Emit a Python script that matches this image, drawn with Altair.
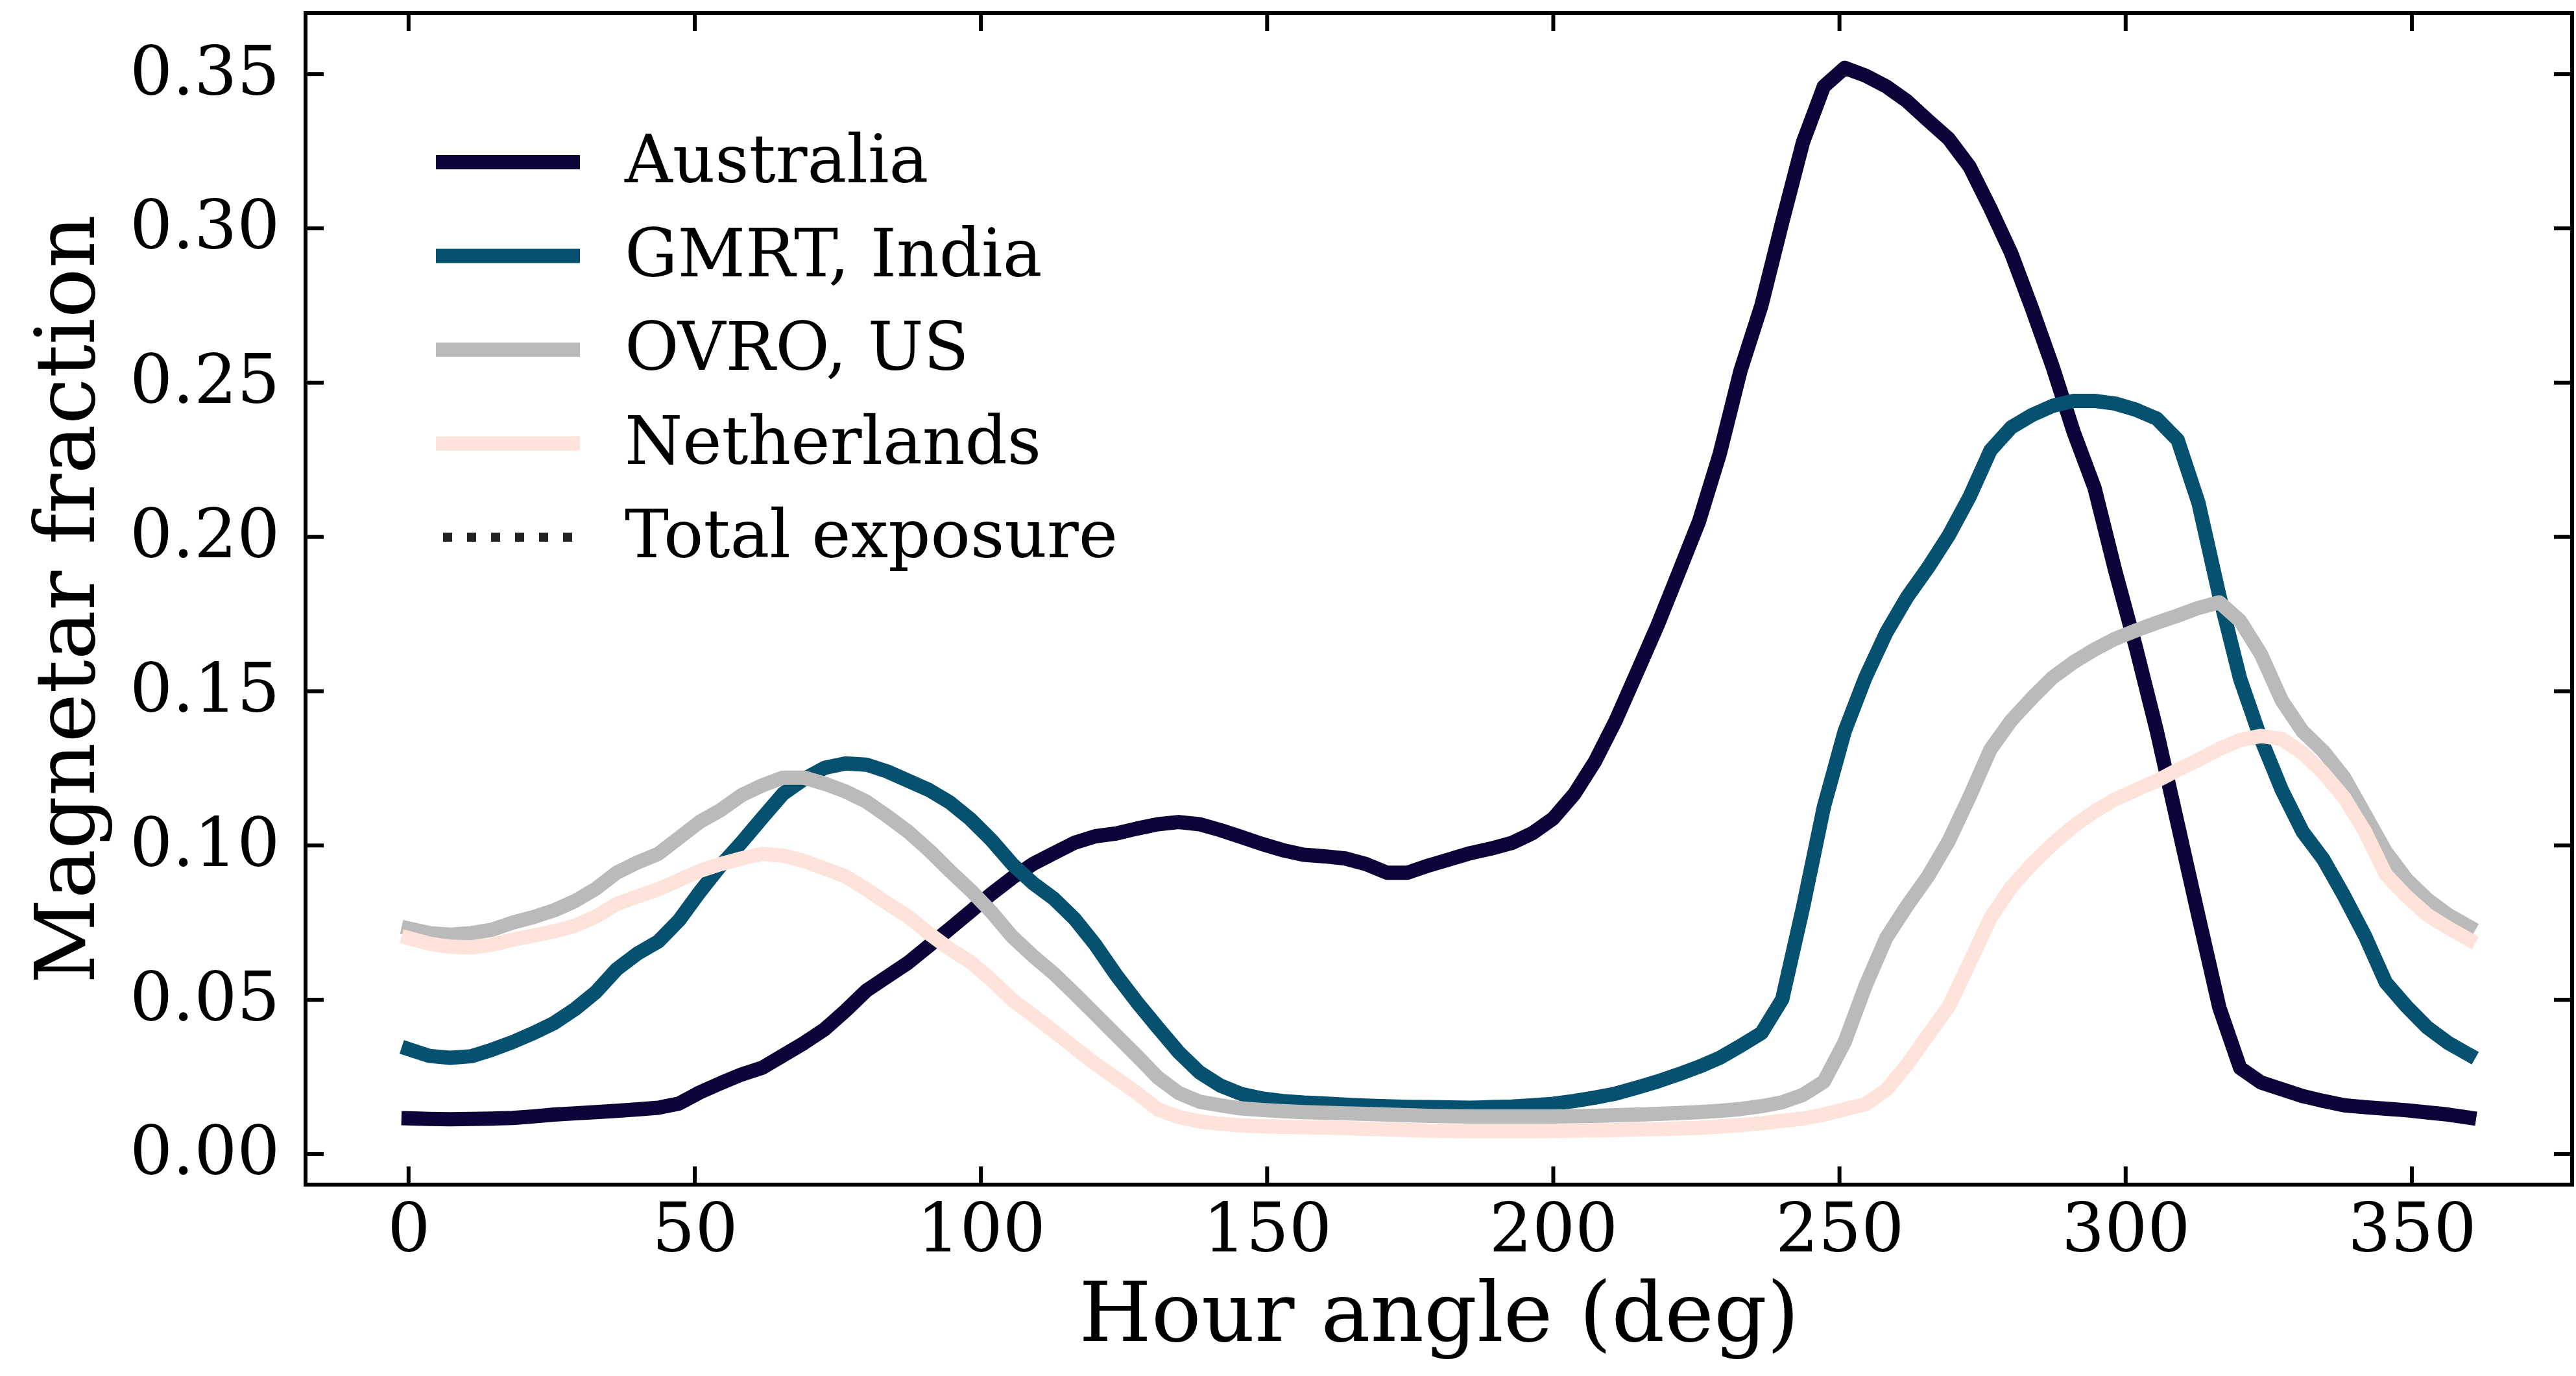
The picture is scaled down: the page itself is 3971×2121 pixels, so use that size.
import altair as alt
import numpy as np
import pandas as pd

# ---------------- data ----------------
hour_angle = np.linspace(0, 360, 100)  # native sampling grid of the curves

series_names = ["Australia", "GMRT, India", "OVRO, US", "Netherlands"]
legend_labels = ["Australia", "GMRT, India", "OVRO, US", "Netherlands", "Total exposure"]

australia = [0.0116, 0.0114, 0.0113, 0.0114, 0.0115, 0.0117, 0.0122, 0.0128, 0.0132, 0.0136,
             0.0140, 0.0145, 0.0150, 0.0164, 0.0200, 0.0230, 0.0258, 0.0280, 0.0320, 0.0360,
             0.0405, 0.0465, 0.0530, 0.0575, 0.0620, 0.0675, 0.0730, 0.0786, 0.0843, 0.0895,
             0.0940, 0.0975, 0.1009, 0.1030, 0.1039, 0.1055, 0.1069, 0.1076, 0.1069, 0.1050,
             0.1028, 0.1005, 0.0985, 0.0970, 0.0965, 0.0958, 0.0940, 0.0912, 0.0912, 0.0935,
             0.0955, 0.0975, 0.0990, 0.1008, 0.1040, 0.1088, 0.1166, 0.1272, 0.1405, 0.1558,
             0.1712, 0.1880, 0.2050, 0.2270, 0.2540, 0.2750, 0.3020, 0.3280, 0.3460, 0.3520,
             0.3495, 0.3460, 0.3412, 0.3350, 0.3290, 0.3200, 0.3065, 0.2920, 0.2740, 0.2550,
             0.2340, 0.2160, 0.1890, 0.1640, 0.1370, 0.1070, 0.0770, 0.0475, 0.0279, 0.0232,
             0.0210, 0.0188, 0.0172, 0.0158, 0.0152, 0.0147, 0.0142, 0.0135, 0.0128, 0.0118]

gmrt = [0.0340, 0.0318, 0.0312, 0.0317, 0.0338, 0.0363, 0.0392, 0.0425, 0.0470, 0.0525,
        0.0599, 0.0650, 0.0689, 0.0758, 0.0850, 0.0935, 0.1010, 0.1090, 0.1168, 0.1215,
        0.1252, 0.1266, 0.1262, 0.1240, 0.1210, 0.1180, 0.1140, 0.1085, 0.1018, 0.0940,
        0.0878, 0.0828, 0.0762, 0.0678, 0.0580, 0.0492, 0.0410, 0.0330, 0.0265, 0.0222,
        0.0195, 0.0180, 0.0172, 0.0167, 0.0164, 0.0160, 0.0157, 0.0155, 0.0153, 0.0152,
        0.0151, 0.0150, 0.0152, 0.0154, 0.0158, 0.0163, 0.0172, 0.0183, 0.0196, 0.0215,
        0.0235, 0.0258, 0.0283, 0.0312, 0.0351, 0.0392, 0.0502, 0.0800, 0.1125, 0.1370,
        0.1545, 0.1690, 0.1805, 0.1900, 0.2005, 0.2130, 0.2280, 0.2355, 0.2395, 0.2425,
        0.2441, 0.2441, 0.2432, 0.2412, 0.2383, 0.2314, 0.2110, 0.1810, 0.1540, 0.1345,
        0.1180, 0.1045, 0.0955, 0.0836, 0.0707, 0.0556, 0.0478, 0.0410, 0.0360, 0.0322]

ovro = [0.0731, 0.0716, 0.0711, 0.0716, 0.0727, 0.0750, 0.0768, 0.0790, 0.0820, 0.0860,
        0.0912, 0.0945, 0.0973, 0.1025, 0.1077, 0.1115, 0.1163, 0.1195, 0.1220, 0.1220,
        0.1200, 0.1175, 0.1142, 0.1095, 0.1045, 0.0985, 0.0918, 0.0855, 0.0785, 0.0705,
        0.0642, 0.0585, 0.0520, 0.0453, 0.0385, 0.0318, 0.0248, 0.0198, 0.0170, 0.0158,
        0.0148, 0.0143, 0.0139, 0.0136, 0.0134, 0.0132, 0.0130, 0.0128, 0.0126, 0.0124,
        0.0123, 0.0122, 0.0122, 0.0122, 0.0122, 0.0122, 0.0123, 0.0124, 0.0126, 0.0128,
        0.0130, 0.0133, 0.0136, 0.0140, 0.0146, 0.0155, 0.0168, 0.0192, 0.0235, 0.0363,
        0.0545, 0.0701, 0.0805, 0.0900, 0.1015, 0.1158, 0.1311, 0.1405, 0.1478, 0.1545,
        0.1594, 0.1635, 0.1670, 0.1697, 0.1722, 0.1745, 0.1770, 0.1788, 0.1728, 0.1620,
        0.1470, 0.1370, 0.1305, 0.1220, 0.1100, 0.0980, 0.0890, 0.0825, 0.0775, 0.0737]

netherlands = [0.0700, 0.0682, 0.0672, 0.0670, 0.0678, 0.0695, 0.0708, 0.0722, 0.0740, 0.0770,
               0.0810, 0.0835, 0.0858, 0.0888, 0.0918, 0.0940, 0.0958, 0.0973, 0.0967, 0.0950,
               0.0925, 0.0900, 0.0858, 0.0812, 0.0770, 0.0715, 0.0665, 0.0622, 0.0565, 0.0500,
               0.0450, 0.0398, 0.0345, 0.0292, 0.0245, 0.0198, 0.0145, 0.0120, 0.0106, 0.0098,
               0.0093, 0.0090, 0.0088, 0.0087, 0.0086, 0.0084, 0.0082, 0.0080, 0.0078, 0.0076,
               0.0075, 0.0074, 0.0074, 0.0074, 0.0074, 0.0075, 0.0076, 0.0077, 0.0078, 0.0080,
               0.0081, 0.0083, 0.0085, 0.0089, 0.0094, 0.0100, 0.0108, 0.0115, 0.0128, 0.0145,
               0.0162, 0.0208, 0.0290, 0.0385, 0.0478, 0.0620, 0.0765, 0.0865, 0.0940, 0.1005,
               0.1063, 0.1110, 0.1150, 0.1180, 0.1210, 0.1245, 0.1278, 0.1313, 0.1342, 0.1355,
               0.1345, 0.1300, 0.1235, 0.1155, 0.1045, 0.0906, 0.0835, 0.0775, 0.0733, 0.0695]

x_ticks = [0, 50, 100, 150, 200, 250, 300, 350]
y_ticks = [0.00, 0.05, 0.10, 0.15, 0.20, 0.25, 0.30, 0.35]

# ---------------- styling ----------------
colors = ["#0b0439", "#06516f", "#bababa", "#fde3da"]
total_color = "#222222"
FONT = "DejaVu Serif"

W, H = 3494, 1806          # plot area
TICK = 28                  # inward tick length
LW = 22                    # line width

xs = alt.Scale(domain=[-18, 378], nice=False, zero=False)
ys = alt.Scale(domain=[-0.0099, 0.3698], nice=False, zero=False)

xaxis = alt.Axis(values=x_ticks, title="Hour angle (deg)", ticks=False, domain=False, grid=False,
                 labelFontSize=104, labelPadding=20, labelFlush=False, labelOverlap=False,
                 labelLimit=2000, titleLimit=4000,
                 titleFontSize=128, titleFontWeight="normal",
                 titleX=W / 2, titleY=240, titleAlign="center", titleBaseline="alphabetic",
                 labelFont=FONT, titleFont=FONT, labelColor="black", titleColor="black")
yaxis = alt.Axis(values=y_ticks, format=".2f", title="Magnetar fraction", ticks=False, domain=False,
                 grid=False, labelFontSize=104, labelPadding=40, labelFlush=False, labelOverlap=False,
                 labelLimit=2000, titleLimit=4000,
                 titleFontSize=128, titleFontWeight="normal",
                 titleX=-327, titleY=H / 2, titleAngle=270, titleAlign="center",
                 titleBaseline="alphabetic",
                 labelFont=FONT, titleFont=FONT, labelColor="black", titleColor="black")

layers = []

# curves, drawn in legend order (later ones on top)
for name, vals, col in zip(series_names, [australia, gmrt, ovro, netherlands], colors):
    d = pd.DataFrame({"ha": hour_angle, "frac": vals, "series": name})
    layers.append(
        alt.Chart(d).mark_line(strokeWidth=LW, strokeCap="square", strokeJoin="round", color=col)
        .encode(x=alt.X("ha:Q", scale=xs, axis=xaxis), y=alt.Y("frac:Q", scale=ys, axis=yaxis))
    )

# inward ticks on all four sides
xt = pd.DataFrame({"ha": x_ticks})
yt = pd.DataFrame({"frac": y_ticks})
tick_style = dict(strokeWidth=6, color="black")
layers.append(alt.Chart(xt).mark_rule(**tick_style).encode(
    x=alt.X("ha:Q", scale=xs, axis=xaxis), y=alt.value(H), y2=alt.value(H - TICK)))
layers.append(alt.Chart(xt).mark_rule(**tick_style).encode(
    x=alt.X("ha:Q", scale=xs, axis=xaxis), y=alt.value(0), y2=alt.value(TICK)))
layers.append(alt.Chart(yt).mark_rule(**tick_style).encode(
    y=alt.Y("frac:Q", scale=ys, axis=yaxis), x=alt.value(0), x2=alt.value(TICK)))
layers.append(alt.Chart(yt).mark_rule(**tick_style).encode(
    y=alt.Y("frac:Q", scale=ys, axis=yaxis), x=alt.value(W), x2=alt.value(W - TICK)))

# legend (inside the plot, upper left)
LEG_X0, LEG_X1, LEG_TX = 212, 412, 492
LEG_Y0, LEG_DY = 230, 144.5
for i, name in enumerate(legend_labels):
    ld = pd.DataFrame({"series": [name]})
    yy = LEG_Y0 + i * LEG_DY
    if i < len(series_names):
        handle = alt.Chart(ld).mark_rule(strokeWidth=LW, strokeCap="square", color=colors[i])
    else:
        handle = alt.Chart(ld).mark_rule(strokeWidth=14, strokeCap="butt", color=total_color,
                                         strokeDash=[14, 23])
    layers.append(handle.encode(x=alt.value(LEG_X0), x2=alt.value(LEG_X1), y=alt.value(yy)))
    layers.append(alt.Chart(ld).mark_text(align="left", baseline="middle", fontSize=102,
                                          font=FONT, color="black")
                  .encode(x=alt.value(LEG_TX), y=alt.value(yy), text="series:N"))

chart = (
    alt.layer(*layers)
    .properties(width=W, height=H,
                autosize=alt.AutoSizeParams(type="none"),
                padding={"left": 471, "top": 20, "right": 6, "bottom": 295},
                background="white")
    .configure(font=FONT)
    .configure_view(stroke="black", strokeWidth=6)
)

chart.save("out.html", embed_options={"renderer": "svg", "actions": False})
